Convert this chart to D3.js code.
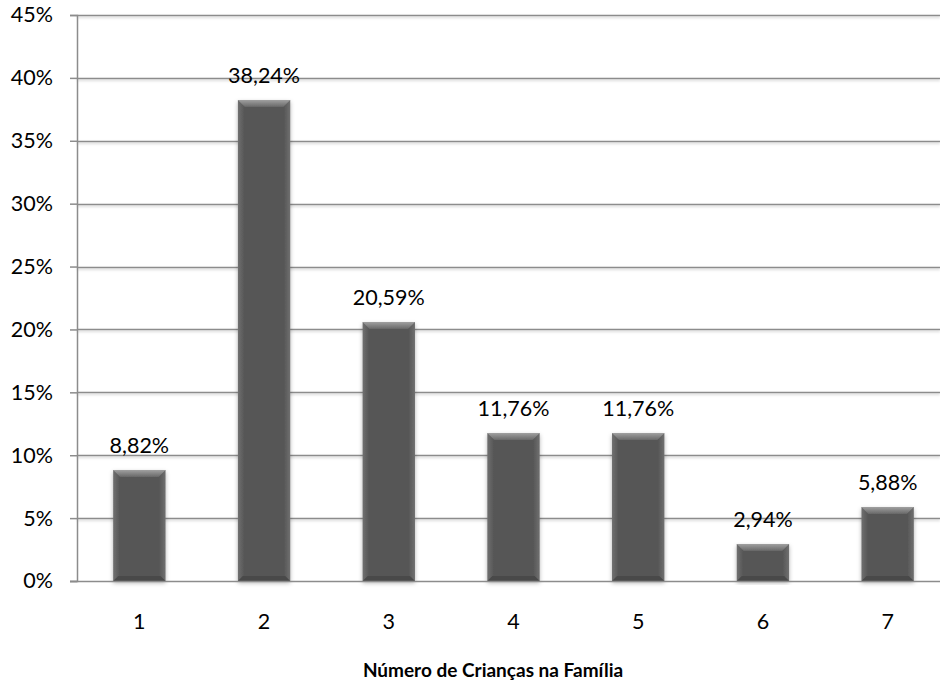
<!DOCTYPE html>
<html>
<head>
<meta charset="utf-8">
<script src="https://cdn.jsdelivr.net/npm/d3@7"></script>
<style>
  html, body { margin: 0; padding: 0; background: #fff; }
  svg { display: block; font-family: Lato, "Open Sans", "Liberation Sans", sans-serif; }
</style>
</head>
<body>
<svg id="chart" width="940" height="686"></svg>
<script>
// Share of families by number of children
const categories = ["1", "2", "3", "4", "5", "6", "7"];
const values = [8.82, 38.24, 20.59, 11.76, 11.76, 2.94, 5.88];
const valueLabels = ["8,82%", "38,24%", "20,59%", "11,76%", "11,76%", "2,94%", "5,88%"];
const yTicks = [0, 5, 10, 15, 20, 25, 30, 35, 40, 45];
const xTitle = "Número de Crianças na Família";

const svg = d3.select("#chart");
const W = 940, H = 686;
const margin = { left: 77, top: 15, bottom: 105 };
const plotRight = 950; // plot area runs slightly past the canvas edge

const x = d3.scaleBand().domain(categories)
  .range([margin.left, plotRight]).paddingInner(0.58).paddingOuter(0.29);
const y = d3.scaleLinear().domain([0, 45]).range([H - margin.bottom, margin.top]);

const defs = svg.append("defs");
const body = defs.append("linearGradient").attr("id", "barBody").attr("x1", 0).attr("x2", 1).attr("y1", 0).attr("y2", 0);
body.append("stop").attr("offset", "0").attr("stop-color", "#707070");
body.append("stop").attr("offset", "0.12").attr("stop-color", "#575757");
body.append("stop").attr("offset", "0.88").attr("stop-color", "#575757");
body.append("stop").attr("offset", "1").attr("stop-color", "#707070");
const topG = defs.append("linearGradient").attr("id", "barTop").attr("x1", 0).attr("x2", 0).attr("y1", 0).attr("y2", 1);
topG.append("stop").attr("offset", "0").attr("stop-color", "#a0a0a0");
topG.append("stop").attr("offset", "1").attr("stop-color", "#676767");
const shadow = defs.append("filter").attr("id", "shadow").attr("x", "-20%").attr("y", "-5%").attr("width", "140%").attr("height", "115%");
shadow.append("feDropShadow").attr("dx", 0).attr("dy", 2).attr("stdDeviation", 2).attr("flood-color", "#000").attr("flood-opacity", 0.3);
const gshadow = defs.append("filter").attr("id", "gshadow").attr("x", "-1%").attr("y", "-100%").attr("width", "102%").attr("height", "400%");
gshadow.append("feDropShadow").attr("dx", 0).attr("dy", 1.5).attr("stdDeviation", 0.8).attr("flood-color", "#000").attr("flood-opacity", 0.2);

// Horizontal gridlines
svg.append("g").attr("filter", "url(#gshadow)")
  .selectAll("line").data(yTicks.filter(d => d > 0)).join("line")
  .attr("x1", margin.left).attr("x2", W)
  .attr("y1", d => Math.round(y(d)) + 0.5).attr("y2", d => Math.round(y(d)) + 0.5)
  .attr("stroke", "#8c8c8c").attr("stroke-width", 1.5);

// Y axis
const yAxis = svg.append("g").attr("transform", `translate(${margin.left},0)`)
  .call(d3.axisLeft(y).tickValues(yTicks).tickFormat(d => d + "%").tickSize(7).tickPadding(17));
yAxis.select(".domain").attr("stroke", "#8c8c8c").attr("stroke-width", 1.5);
yAxis.selectAll(".tick line").attr("stroke", "#8c8c8c").attr("stroke-width", 1.5);
yAxis.selectAll(".tick text").attr("font-size", 21.5).attr("fill", "#000")
  .attr("font-family", "Lato, 'Open Sans', sans-serif");

// Bars
const bw = x.bandwidth();
const bars = svg.append("g").selectAll("g").data(categories).join("g").attr("filter", "url(#shadow)");
bars.append("rect")
  .attr("x", d => x(d)).attr("width", bw)
  .attr("y", (d, i) => y(values[i])).attr("height", (d, i) => y(0) - y(values[i]))
  .attr("fill", "url(#barBody)");
bars.append("polygon")
  .attr("points", (d, i) => {
    const x0 = x(d), x1 = x(d) + bw, t = y(values[i]), b = 7;
    return `${x0},${t} ${x1},${t} ${x1 - b},${t + b} ${x0 + b},${t + b}`;
  })
  .attr("fill", "url(#barTop)");
bars.append("polygon")
  .attr("points", (d, i) => {
    const x0 = x(d), x1 = x(d) + bw, bt = y(0), b = 5;
    return `${x0},${bt} ${x1},${bt} ${x1 - b},${bt - b} ${x0 + b},${bt - b}`;
  })
  .attr("fill", "#4a4a4a");

// X axis baseline
svg.append("line")
  .attr("x1", margin.left - 7).attr("x2", W)
  .attr("y1", Math.round(y(0)) + 0.5).attr("y2", Math.round(y(0)) + 0.5)
  .attr("stroke", "#8c8c8c").attr("stroke-width", 1.5);

// Category labels
svg.append("g").selectAll("text").data(categories).join("text")
  .attr("x", d => x(d) + bw / 2).attr("y", y(0) + 48)
  .attr("text-anchor", "middle").attr("font-size", 21.5).attr("fill", "#000")
  .text(d => d);

// Value labels
svg.append("g").selectAll("text").data(categories).join("text")
  .attr("x", d => x(d) + bw / 2).attr("y", (d, i) => y(values[i]) - 17)
  .attr("text-anchor", "middle").attr("font-size", 21.5).attr("fill", "#000")
  .text((d, i) => valueLabels[i]);

// Axis title
svg.append("text")
  .attr("x", 493).attr("y", 677)
  .attr("text-anchor", "middle").attr("font-size", 19).attr("font-weight", "bold").attr("fill", "#000")
  .text(xTitle);
</script>
</body>
</html>
